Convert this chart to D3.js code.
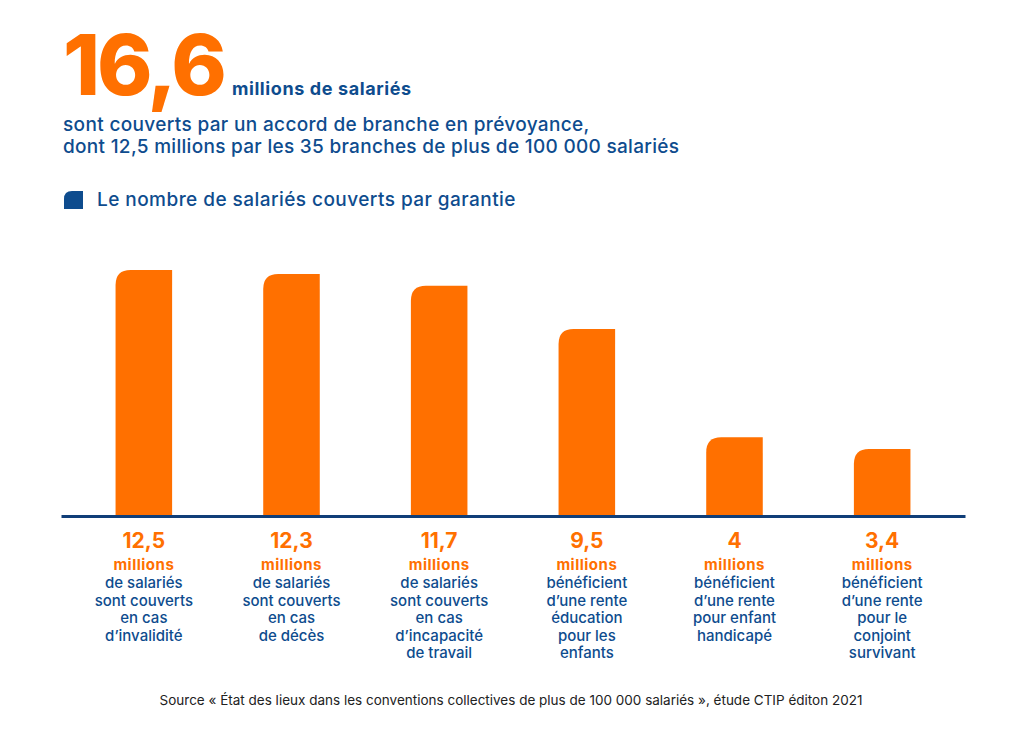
<!DOCTYPE html>
<html><head><meta charset="utf-8">
<script src="https://cdn.jsdelivr.net/npm/d3@7"></script>
<style>
body{margin:0;background:#fff;}
svg{display:block;font-family:Inter, "Open Sans", sans-serif;}
</style></head>
<body><svg id="c" width="1024" height="731"></svg>
<script>
const categories = ["invalidite","deces","incapacite","education","handicap","conjoint"];
const values = [12.5, 12.3, 11.7, 9.5, 4, 3.4];
const valueLabels = ["12,5","12,3","11,7","9,5","4","3,4"];
const descriptions = [
  ["de salariés","sont couverts","en cas","d’invalidité"],
  ["de salariés","sont couverts","en cas","de décès"],
  ["de salariés","sont couverts","en cas","d’incapacité","de travail"],
  ["bénéficient","d’une rente","éducation","pour les","enfants"],
  ["bénéficient","d’une rente","pour enfant","handicapé"],
  ["bénéficient","d’une rente","pour le","conjoint","survivant"]
];
const ORANGE = "#FF7000", BLUE = "#0E4C8E";
const svg = d3.select("#c");

// Header
const t = svg.append("text").attr("x", 63).attr("y", 95);
t.append("tspan").text("16,6").attr("fill", ORANGE).attr("font-size", 84).attr("font-weight", 800).attr("letter-spacing", -3);
t.append("tspan").text("millions de salariés").attr("dx", 8).attr("fill", BLUE).attr("font-size", 18).attr("font-weight", 700).attr("letter-spacing", 0.6);
svg.append("text").attr("x", 63).attr("y", 131).attr("fill", BLUE).attr("font-size", 19).attr("font-weight", 500).attr("letter-spacing", 0.35)
  .text("sont couverts par un accord de branche en prévoyance,");
svg.append("text").attr("x", 63).attr("y", 153).attr("fill", BLUE).attr("font-size", 19).attr("font-weight", 500).attr("letter-spacing", 0.3)
  .text("dont 12,5 millions par les 35 branches de plus de 100 000 salariés");

// Legend
svg.append("path").attr("fill", BLUE)
  .attr("d", "M64,209 L64,199 Q64,191 72,191 L83,191 L83,209 Z");
svg.append("text").attr("x", 97).attr("y", 206).attr("fill", BLUE).attr("font-size", 19).attr("font-weight", 500).attr("letter-spacing", 0.45)
  .text("Le nombre de salariés couverts par garantie");

// Scales
const x = d3.scaleBand().domain(categories).range([70, 956]).paddingInner(0.617).paddingOuter(0.3085);
const y = d3.scaleLinear().domain([0, 12.5]).range([516, 270]);
const r = 15;

svg.append("g").selectAll("path").data(values).join("path")
  .attr("fill", ORANGE)
  .attr("d", (v, i) => {
    const x0 = x(categories[i]), w = x.bandwidth(), y0 = y(0), y1 = y(v);
    return `M${x0},${y0} L${x0},${y1 + r} Q${x0},${y1} ${x0 + r},${y1} L${x0 + w},${y1} L${x0 + w},${y0} Z`;
  });

// Axis
const axis = svg.append("g").attr("transform", `translate(0,${y(0)})`)
  .call(d3.axisBottom(d3.scaleLinear().range([61, 965])).ticks(0).tickSize(0).tickFormat(""));
axis.select(".domain").attr("stroke", "#103E78").attr("stroke-width", 3);

// Labels
const lab = svg.append("g").selectAll("g").data(categories).join("g")
  .attr("transform", d => `translate(${x(d) + x.bandwidth() / 2},0)`)
  .attr("text-anchor", "middle");
lab.append("text").attr("y", 548).attr("fill", ORANGE).attr("font-size", 21).attr("font-weight", 700)
  .text((d, i) => valueLabels[i]);
lab.append("text").attr("y", 569.5).attr("fill", ORANGE).attr("font-size", 15).attr("font-weight", 700).attr("letter-spacing", 0.5)
  .text("millions");
lab.each(function (d, i) {
  d3.select(this).selectAll("text.desc").data(descriptions[i]).join("text")
    .attr("class", "desc").attr("y", (s, j) => 588 + j * 17.5)
    .attr("fill", BLUE).attr("font-size", 15).attr("font-weight", 500).text(s => s);
});

// Source
svg.append("text").attr("x", 511).attr("y", 705).attr("text-anchor", "middle")
  .attr("fill", "#222").attr("font-size", 13.5)
  .text("Source « État des lieux dans les conventions collectives de plus de 100 000 salariés », étude CTIP éditon 2021");
</script></body></html>
